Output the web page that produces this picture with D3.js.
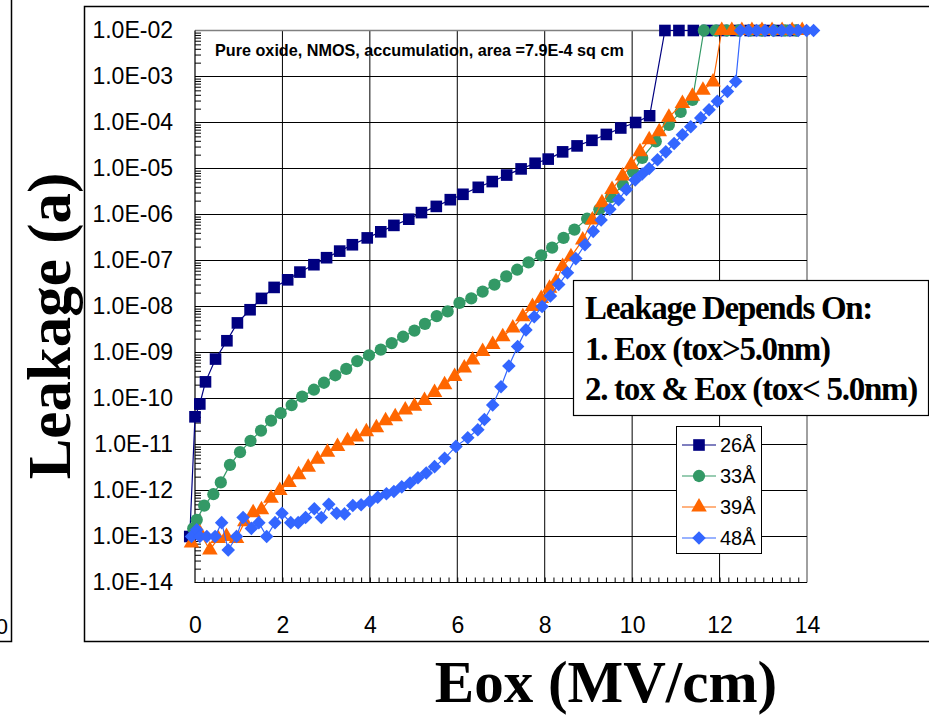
<!DOCTYPE html>
<html>
<head>
<meta charset="utf-8">
<script src="https://cdn.jsdelivr.net/npm/d3@7"></script>
<style>
    body { margin: 0; background: #fff; }
    svg { display: block; }
</style>
</head>
<body>
<div id="chart"></div>
<script>
'use strict';

// Eox (MV/cm) and leakage (A) per oxide thickness
const eox26 = [-0.12, 0.00, 0.11, 0.24, 0.47, 0.73, 0.97, 1.26, 1.52, 1.81, 2.12, 2.40, 2.72, 3.01, 3.31, 3.60,
    3.94, 4.25, 4.55, 4.89, 5.18, 5.52, 5.84, 6.13, 6.48, 6.80, 7.13, 7.46, 7.78, 8.08, 8.41, 8.74, 9.08, 9.41,
    9.74, 10.08, 10.40, 10.75, 11.07, 11.40, 11.72, 12.05, 12.37, 12.70, 13.02, 13.35, 13.67];
const leak26 = [1.0e-13, 4.0e-11, 7.6e-11, 2.3e-10, 7.2e-10, 1.8e-9, 4.4e-9, 8.5e-9, 1.5e-8, 2.6e-8, 3.8e-8, 5.6e-8,
    8.1e-8, 1.15e-7, 1.6e-7, 2.2e-7, 3.1e-7, 4.2e-7, 5.8e-7, 7.9e-7, 1.1e-6, 1.5e-6, 2.1e-6, 2.75e-6, 3.9e-6,
    5.2e-6, 7.2e-6, 9.8e-6, 1.3e-5, 1.6e-5, 2.3e-5, 3.1e-5, 4.1e-5, 5.5e-5, 7.6e-5, 1.0e-4, 1.4e-4,
    1e-2, 1e-2, 1e-2, 1e-2, 1e-2, 1e-2, 1e-2, 1e-2, 1e-2, 1e-2];

const eox33 = [-0.04, 0.04, 0.21, 0.42, 0.59, 0.80, 1.03, 1.27, 1.51, 1.74, 1.96, 2.21, 2.45, 2.72, 2.95, 3.21,
    3.46, 3.71, 3.98, 4.25, 4.50, 4.76, 5.02, 5.26, 5.53, 5.78, 6.05, 6.32, 6.58, 6.85, 7.12, 7.37, 7.63, 7.92,
    8.17, 8.43, 8.68, 8.97, 9.25, 9.52, 9.79, 10.02, 10.23, 10.54, 10.84, 11.11, 11.38,
    11.64, 11.91, 12.17, 12.44, 12.70, 12.97, 13.23, 13.50, 13.76];
const leak33 = [1.5e-13, 2.3e-13, 4.7e-13, 8.3e-13, 1.5e-12, 3.6e-12, 6.8e-12, 1.2e-11, 2.0e-11, 3.3e-11, 4.8e-11,
    7.2e-11, 1.1e-10, 1.55e-10, 2.2e-10, 3.2e-10, 4.4e-10, 6.5e-10, 8.7e-10, 1.15e-9, 1.6e-9, 2.2e-9, 3.0e-9,
    4.2e-9, 6.2e-9, 7.8e-9, 1.2e-8, 1.5e-8, 2.1e-8, 3.0e-8, 4.5e-8, 6.3e-8, 9.1e-8, 1.3e-7, 1.9e-7, 3.1e-7,
    4.7e-7, 8.1e-7, 1.3e-6, 2.4e-6, 4.4e-6, 8.5e-6, 1.7e-5, 3.9e-5, 8.9e-5, 1.7e-4, 3.1e-4,
    1e-2, 1e-2, 1e-2, 1e-2, 1e-2, 1e-2, 1e-2, 1e-2, 1e-2];

const eox39 = [-0.08, 0.11, 0.34, 0.53, 0.72, 0.95, 1.14, 1.33, 1.52, 1.74, 1.94, 2.15, 2.37, 2.59, 2.80, 3.03,
    3.26, 3.49, 3.69, 3.92, 4.15, 4.36, 4.58, 4.81, 5.02, 5.25, 5.48, 5.71, 5.94, 6.16, 6.35, 6.58, 6.81, 7.04,
    7.27, 7.50, 7.72, 7.92, 8.11, 8.26, 8.41, 8.60, 8.87, 9.09, 9.31, 9.54, 9.78, 9.98, 10.18, 10.39, 10.62,
    10.84, 11.15, 11.38, 11.62, 11.85, 12.05, 12.28, 12.51, 12.74, 12.97, 13.20, 13.43, 13.66, 13.89];
const leak39 = [7.2e-14, 1.2e-13, 5.1e-14, 9.1e-14, 1.0e-13, 9.1e-14, 2.1e-13, 3.3e-13, 3.8e-13, 6.8e-13, 1.0e-12,
    1.5e-12, 2.2e-12, 3.2e-12, 4.8e-12, 6.8e-12, 9.1e-12, 1.2e-11, 1.45e-11, 1.9e-11, 2.3e-11, 3.3e-11, 4.0e-11,
    5.6e-11, 6.8e-11, 9.1e-11, 1.35e-10, 2.0e-10, 3.0e-10, 4.6e-10, 6.9e-10, 1.05e-9, 1.5e-9, 2.2e-9, 3.4e-9,
    6.0e-9, 1.0e-8, 1.5e-8, 2.5e-8, 3.5e-8, 7.4e-8, 1.2e-7, 2.8e-7, 7.6e-7, 1.8e-6, 3.5e-6, 6.9e-6, 1.2e-5,
    2.3e-5, 4.2e-5, 6.3e-5, 1.3e-4, 2.6e-4, 3.7e-4, 5.0e-4, 7.6e-4,
    1e-2, 1e-2, 1e-2, 1e-2, 1e-2, 1e-2, 1e-2, 1e-2, 1e-2];

const eox48 = [-0.08, 0.04, 0.11, 0.27, 0.46, 0.61, 0.76, 0.95, 1.10, 1.29, 1.46, 1.64, 1.83, 1.99, 2.19, 2.36,
    2.53, 2.73, 2.89, 3.06, 3.24, 3.42, 3.61, 3.80, 4.00, 4.18, 4.38, 4.55, 4.73, 4.92, 5.10, 5.29, 5.48, 5.71,
    5.97, 6.24, 6.47, 6.62, 6.81, 7.00, 7.18, 7.38, 7.57, 7.76, 7.94, 8.13, 8.32, 8.52, 8.71, 8.92, 9.11, 9.29,
    9.49, 9.69, 9.87, 10.07, 10.23, 10.39, 10.58, 10.77, 10.96, 11.15, 11.34, 11.57, 11.76, 11.95, 12.18, 12.37,
    12.48, 12.66, 12.85, 13.04, 13.23, 13.42, 13.61, 13.80, 13.99, 14.15];
const leak48 = [1.0e-13, 1.4e-13, 1.0e-13, 1.0e-13, 1.0e-13, 2.0e-13, 5.1e-14, 1.0e-13, 2.6e-13, 1.5e-13, 2.0e-13,
    1.0e-13, 2.0e-13, 3.2e-13, 2.0e-13, 2.0e-13, 2.6e-13, 4.0e-13, 2.6e-13, 5.0e-13, 3.2e-13, 3.1e-13, 4.7e-13,
    4.9e-13, 5.8e-13, 7.1e-13, 8.5e-13, 9.5e-13, 1.2e-12, 1.45e-12, 1.9e-12, 2.4e-12, 3.3e-12, 5.0e-12, 9.1e-12,
    1.4e-11, 2.1e-11, 3.5e-11, 7.2e-11, 1.8e-10, 5.1e-10, 1.35e-9, 3.1e-9, 6.0e-9, 1.0e-8, 1.7e-8, 3.0e-8,
    5.4e-8, 1.1e-7, 2.2e-7, 4.3e-7, 7.6e-7, 1.3e-6, 2.1e-6, 3.5e-6, 5.6e-6, 7.6e-6, 1.0e-5, 1.55e-5, 2.3e-5,
    3.5e-5, 5.4e-5, 8.1e-5, 1.26e-4, 1.9e-4, 2.9e-4, 4.7e-4, 7.8e-4,
    1e-2, 1e-2, 1e-2, 1e-2, 1e-2, 1e-2, 1e-2, 1e-2, 1e-2, 1e-2];

const seriesNames = ['26Å', '33Å', '39Å', '48Å'];
const xTicks = [0, 2, 4, 6, 8, 10, 12, 14];
const yTicks = [1e-2, 1e-3, 1e-4, 1e-5, 1e-6, 1e-7, 1e-8, 1e-9, 1e-10, 1e-11, 1e-12, 1e-13, 1e-14];
const chartTitle = 'Pure oxide, NMOS, accumulation, area =7.9E-4 sq cm';
const noteLines = ['Leakage Depends On:', '1. Eox (tox>5.0nm)', '2. tox & Eox (tox< 5.0nm)'];

// Styles
const width = 929,
    height = 715,
    plot = {left: 195, right: 807, top: 30.5, bottom: 582.5},
    sansFont = 'Arial, "Liberation Sans", sans-serif',
    serifFont = '"Times New Roman", "Liberation Serif", serif',
    colors = ['#000080', '#339966', '#FF6600', '#3366FF'],
    shapes = [
        {type: d3.symbolSquare, size: 135, rotate: 0},
        {type: d3.symbolCircle, size: 118, rotate: 0},
        {type: d3.symbolTriangle, size: 105, rotate: 0},
        {type: d3.symbolSquare, size: 92, rotate: 45}
    ];

const series = seriesNames.map((name, i) => {
    let xs = [eox26, eox33, eox39, eox48][i],
        ys = [leak26, leak33, leak39, leak48][i];

    return {name, color: colors[i], shape: shapes[i], values: xs.map((x, j) => ({x, y: ys[j]}))};
});

const x = d3.scaleLinear().domain([0, 14]).range([plot.left, plot.right]);
const y = d3.scaleLog().domain([1e-14, 1e-2]).range([plot.bottom, plot.top]);

const svg = d3.select('#chart')
  .append('svg')
    .attr('width', width)
    .attr('height', height);

/**
 * Frames of the chart area, plus the edge of the neighbouring chart on the left
 */
function drawFrames() {
    svg.append('rect')
        .attr('x', 84.5).attr('y', 6.5)
        .attr('width', 900).attr('height', 635)
        .style('fill', 'none').style('stroke', '#000').style('stroke-width', 1.5);

    svg.append('path')
        .attr('d', 'M11.5,0V641.5H0')
        .style('fill', 'none').style('stroke', '#000').style('stroke-width', 1.5);

    svg.append('text')
        .attr('x', 8).attr('y', 634)
        .attr('text-anchor', 'end')
        .style('font-family', sansFont).style('font-size', '22px')
        .text('0');
}

/**
 * Grid, axes with their minor ticks and tick labels
 */
function drawAxes() {
    let grid = svg.append('g').classed('grid', true);

    grid.selectAll('.v-grid')
        .data(xTicks.slice(1))
      .enter().append('line')
        .attr('x1', d => x(d)).attr('x2', d => x(d))
        .attr('y1', plot.top).attr('y2', plot.bottom)
        .style('stroke', d => d === 14 ? '#808080' : '#000')
        .style('stroke-width', d => d === 14 ? 1.5 : 1);

    grid.selectAll('.h-grid')
        .data(yTicks.slice(0, -1))
      .enter().append('line')
        .attr('x1', plot.left).attr('x2', plot.right)
        .attr('y1', d => y(d)).attr('y2', d => y(d))
        .style('stroke', d => d === 1e-2 ? '#808080' : '#000')
        .style('stroke-width', d => d === 1e-2 ? 1.5 : 1);

    let yMinor = [];
    yTicks.slice(0, -1).forEach(d => {
        for (let k = 2; k < 10; k++) {
            yMinor.push(d / 10 * k);
        }
    });
    let xMinor = d3.range(0, 70).map(i => i * 0.2).filter(d => d > 0);

    svg.append('g')
        .attr('transform', `translate(${plot.left},0)`)
        .call(d3.axisLeft(y).tickValues(yMinor).tickSize(-6).tickFormat(''))
        .call(g => g.select('.domain').remove());

    svg.append('g')
        .attr('transform', `translate(0,${plot.bottom})`)
        .call(d3.axisBottom(x).tickValues(xMinor).tickSize(-5).tickFormat(''))
        .call(g => g.select('.domain').remove());

    svg.append('path')
        .attr('d', `M${plot.left},${plot.top}V${plot.bottom}H${plot.right}`)
        .style('fill', 'none').style('stroke', '#000').style('stroke-width', 1.2);

    let yAxis = svg.append('g')
        .attr('transform', `translate(${plot.left},0)`)
        .call(d3.axisLeft(y)
            .tickValues(yTicks)
            .tickSize(0)
            .tickPadding(22)
            .tickFormat(d => '1.0E-' + String(-Math.round(Math.log10(d))).padStart(2, '0')));

    let xAxis = svg.append('g')
        .attr('transform', `translate(0,${plot.bottom})`)
        .call(d3.axisBottom(x).tickValues(xTicks).tickSize(0).tickPadding(34));

    [yAxis, xAxis].forEach(g => {
        g.select('.domain').remove();
        g.selectAll('text')
            .style('font-family', sansFont)
            .style('font-size', '23px')
            .style('fill', '#000');
    });
}

/**
 * Lines and markers of each thickness
 */
function drawSeries() {
    let line = d3.line().x(d => x(d.x)).y(d => y(d.y));

    series.forEach(s => {
        let g = svg.append('g').classed('series', true);

        g.append('path')
            .datum(s.values)
            .attr('d', line)
            .style('fill', 'none')
            .style('stroke', s.color)
            .style('stroke-width', 1.2);

        g.selectAll('path.marker')
            .data(s.values)
          .enter().append('path')
            .classed('marker', true)
            .attr('d', d3.symbol().type(s.shape.type).size(s.shape.size))
            .attr('transform', d => `translate(${x(d.x)},${y(d.y)}) rotate(${s.shape.rotate})`)
            .style('fill', s.color);
    });
}

/**
 * Title, axis titles, note box and legend
 */
function drawTexts() {
    svg.append('text')
        .attr('x', 215).attr('y', 56)
        .style('font-family', sansFont).style('font-size', '16.2px').style('font-weight', 'bold')
        .text(chartTitle);

    svg.append('text')
        .attr('transform', 'translate(70,326) rotate(-90)')
        .attr('text-anchor', 'middle')
        .style('font-family', serifFont).style('font-size', '61px').style('font-weight', 'bold')
        .text('Leakage (a)');

    svg.append('text')
        .attr('x', 606).attr('y', 702)
        .attr('text-anchor', 'middle')
        .style('font-family', serifFont).style('font-size', '59px').style('font-weight', 'bold')
        .text('Eox (MV/cm)');

    let note = svg.append('g').classed('note', true);

    note.append('rect')
        .attr('x', 573.5).attr('y', 280.5)
        .attr('width', 355).attr('height', 135)
        .style('fill', '#fff').style('stroke', '#000').style('stroke-width', 1.2);

    note.selectAll('text')
        .data(noteLines)
      .enter().append('text')
        .attr('x', 585)
        .attr('y', (d, i) => 319 + i * 40.5)
        .style('font-family', serifFont).style('font-size', '33px').style('font-weight', 'bold')
        .style('letter-spacing', '-1.3px')
        .text(d => d);

    let legend = svg.append('g').classed('legend', true);

    legend.append('rect')
        .attr('x', 676.5).attr('y', 426.5)
        .attr('width', 85).attr('height', 127)
        .style('fill', '#fff').style('stroke', '#000').style('stroke-width', 1);

    let item = legend.selectAll('g.item')
        .data(series)
      .enter().append('g')
        .classed('item', true)
        .attr('transform', (d, i) => `translate(0,${445 + i * 31})`);

    item.append('line')
        .attr('x1', 682).attr('x2', 716)
        .style('stroke', d => d.color).style('stroke-width', 1.2);

    item.append('path')
        .attr('d', d => d3.symbol().type(d.shape.type).size(d.shape.size)())
        .attr('transform', d => `translate(699,0) rotate(${d.shape.rotate})`)
        .style('fill', d => d.color);

    item.append('text')
        .attr('x', 720).attr('dy', '0.35em')
        .style('font-family', sansFont).style('font-size', '20px')
        .text(d => d.name);
}

drawFrames();
drawAxes();
drawSeries();
drawTexts();
</script>
</body>
</html>
